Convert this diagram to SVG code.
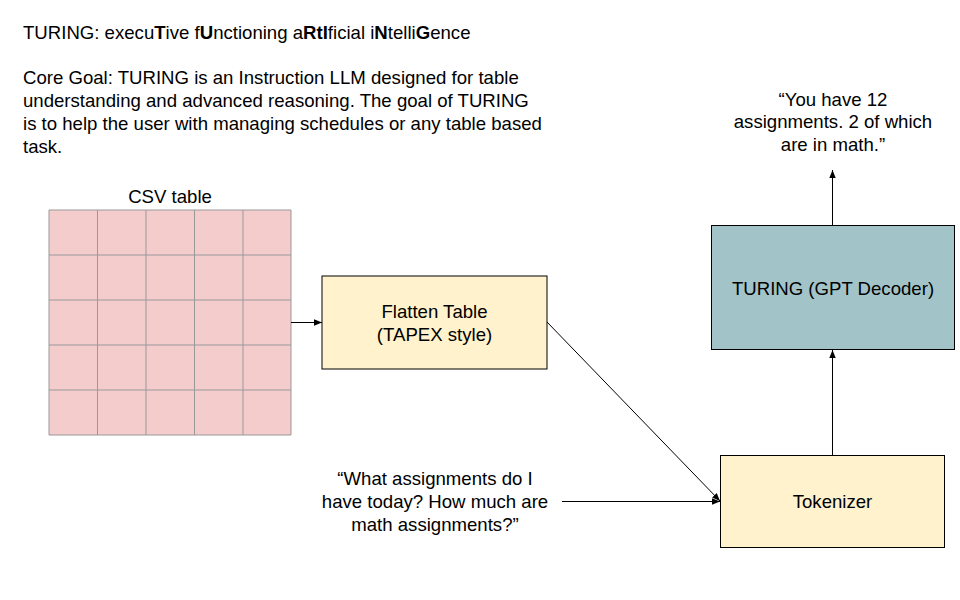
<svg xmlns="http://www.w3.org/2000/svg" width="960" height="600" viewBox="0 0 960 600">
<style>
text{font-family:"Liberation Sans",Arial,sans-serif;font-size:18.6px;fill:#000}
.c{text-anchor:middle}
.box{stroke:#000;stroke-width:1}
.grid{stroke:#999999;stroke-width:1;fill:none}
.conn{stroke:#000;stroke-width:1;fill:none;marker-end:url(#ah)}
</style>
<defs>
<marker id="ah" viewBox="0 0 10 10" refX="10" refY="5" markerWidth="8" markerHeight="8" markerUnits="userSpaceOnUse" orient="auto">
<path d="M0,1 L10,5 L0,9 z" fill="#000"/>
</marker>
</defs>
<rect width="960" height="600" fill="#fff"/>
<g id="title">
<text x="23" y="39">TURING: execu<tspan font-weight="bold">T</tspan>ive f<tspan font-weight="bold">U</tspan>nctioning a<tspan font-weight="bold">RtI</tspan>ficial i<tspan font-weight="bold">N</tspan>telli<tspan font-weight="bold">G</tspan>ence</text>
</g>
<g id="goal">
<text x="23" y="84">Core Goal: TURING is an Instruction LLM designed for table</text>
<text x="23" y="107">understanding and advanced reasoning. The goal of TURING</text>
<text x="23" y="130">is to help the user with managing schedules or any table based</text>
<text x="23" y="153">task.</text>
</g>
<g id="csv">
<text class="c" x="170" y="203">CSV table</text>
<rect x="49" y="210" width="242" height="225" fill="#f4cccc"/>
<path class="grid" d="M49,210H291V435H49Z M97.5,210V435 M146,210V435 M194.5,210V435 M243,210V435 M49,255H291 M49,300H291 M49,345H291 M49,390H291"/>
</g>
<g id="flatten">
<rect class="box" x="322" y="276" width="225" height="93" fill="#fff2cc"/>
<text class="c" x="434.5" y="318">Flatten Table</text>
<text class="c" x="434.5" y="341">(TAPEX style)</text>
</g>
<g id="turing">
<rect class="box" x="711.5" y="225.5" width="243" height="124" fill="#a2c4c9"/>
<text class="c" x="833" y="295">TURING (GPT Decoder)</text>
</g>
<g id="tokenizer">
<rect class="box" x="720.5" y="455.5" width="224" height="92" fill="#fff2cc"/>
<text class="c" x="832.5" y="508">Tokenizer</text>
</g>
<g id="question">
<text class="c" x="435" y="485">“What assignments do I</text>
<text class="c" x="435" y="508">have today? How much are</text>
<text class="c" x="435" y="531">math assignments?”</text>
</g>
<g id="answer">
<text class="c" x="833" y="106">“You have 12</text>
<text class="c" x="833" y="128">assignments. 2 of which</text>
<text class="c" x="833" y="151">are in math.”</text>
</g>
<g id="connectors">
<line class="conn" x1="291" y1="322.5" x2="322" y2="322.5"/>
<line class="conn" x1="547" y1="322" x2="720" y2="501"/>
<line class="conn" x1="562" y1="501.5" x2="720" y2="501.5"/>
<line class="conn" x1="832.5" y1="455" x2="832.5" y2="350"/>
<line class="conn" x1="832.5" y1="225" x2="832.5" y2="170"/>
</g>
</svg>
